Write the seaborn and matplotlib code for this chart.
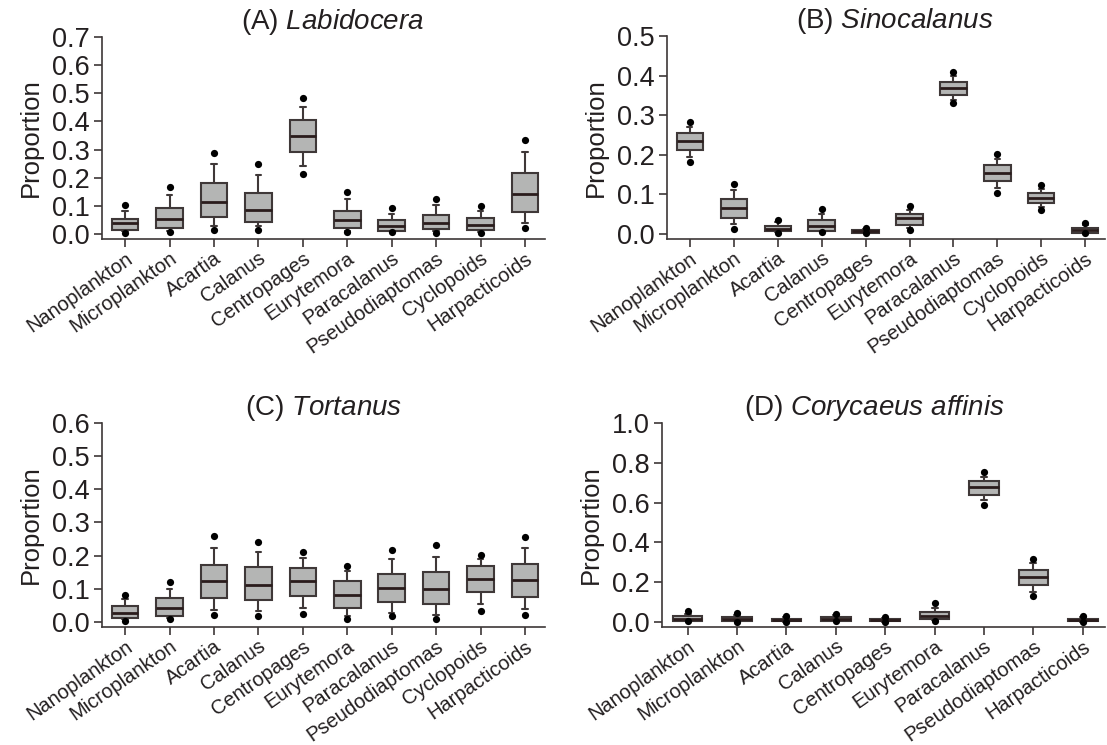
import matplotlib
matplotlib.use("Agg")
import matplotlib.pyplot as plt
import numpy as np
import pandas as pd
import seaborn as sns

# ---------------- data ----------------
cats10 = ["Nanoplankton", "Microplankton", "Acartia", "Calanus", "Centropages",
          "Eurytemora", "Paracalanus", "Pseudodiaptomas", "Cyclopoids", "Harpacticoids"]
cats9 = ["Nanoplankton", "Microplankton", "Acartia", "Calanus", "Centropages",
         "Eurytemora", "Paracalanus", "Pseudodiaptomas", "Harpacticoids"]

# (A) Labidocera
a_dot_lo = [0.004, 0.007, 0.015, 0.013, 0.214, 0.006, 0.006, 0.004, 0.003, 0.020]
a_whi_lo = [0.010, 0.012, 0.027, 0.027, 0.242, 0.010, 0.009, 0.010, 0.008, 0.040]
a_q1     = [0.015, 0.022, 0.059, 0.041, 0.290, 0.021, 0.012, 0.018, 0.014, 0.077]
a_med    = [0.037, 0.054, 0.113, 0.086, 0.348, 0.048, 0.027, 0.039, 0.032, 0.141]
a_q3     = [0.054, 0.093, 0.181, 0.145, 0.405, 0.083, 0.048, 0.068, 0.058, 0.215]
a_whi_hi = [0.080, 0.137, 0.248, 0.208, 0.452, 0.124, 0.072, 0.102, 0.082, 0.290]
a_dot_hi = [0.102, 0.166, 0.289, 0.248, 0.482, 0.150, 0.092, 0.124, 0.099, 0.335]

# (B) Sinocalanus
b_dot_lo = [0.181, 0.013, 0.002, 0.004, 0.002, 0.010, 0.330, 0.102, 0.060, 0.001]
b_whi_lo = [0.193, 0.025, 0.004, 0.006, 0.003, 0.016, 0.339, 0.115, 0.068, 0.002]
b_q1     = [0.212, 0.040, 0.006, 0.008, 0.003, 0.023, 0.352, 0.133, 0.077, 0.003]
b_med    = [0.235, 0.065, 0.012, 0.020, 0.007, 0.039, 0.369, 0.154, 0.090, 0.010]
b_q3     = [0.254, 0.087, 0.020, 0.036, 0.010, 0.049, 0.385, 0.174, 0.103, 0.016]
b_whi_hi = [0.271, 0.112, 0.030, 0.051, 0.012, 0.061, 0.398, 0.188, 0.113, 0.022]
b_dot_hi = [0.282, 0.127, 0.036, 0.063, 0.016, 0.070, 0.409, 0.201, 0.124, 0.028]

# (C) Tortanus
c_dot_lo = [0.002, 0.008, 0.020, 0.017, 0.025, 0.010, 0.017, 0.010, 0.033, 0.020]
c_whi_lo = [0.008, 0.012, 0.036, 0.033, 0.041, 0.018, 0.027, 0.020, 0.053, 0.038]
c_q1     = [0.013, 0.018, 0.071, 0.066, 0.078, 0.043, 0.059, 0.053, 0.089, 0.074]
c_med    = [0.027, 0.043, 0.122, 0.112, 0.122, 0.081, 0.102, 0.100, 0.129, 0.126]
c_q3     = [0.049, 0.071, 0.170, 0.165, 0.161, 0.122, 0.145, 0.151, 0.167, 0.175]
c_whi_hi = [0.068, 0.100, 0.222, 0.211, 0.193, 0.153, 0.190, 0.196, 0.190, 0.224]
c_dot_hi = [0.081, 0.119, 0.259, 0.241, 0.212, 0.168, 0.217, 0.231, 0.203, 0.256]

# (D) Corycaeus affinis
d_dot_lo = [0.002, 0.001, 0.000, 0.002, 0.000, 0.005, 0.590, 0.130, 0.000]
d_whi_lo = [0.004, 0.003, 0.001, 0.003, 0.001, 0.008, 0.612, 0.150, 0.001]
d_q1     = [0.006, 0.005, 0.002, 0.005, 0.002, 0.013, 0.640, 0.186, 0.002]
d_med    = [0.016, 0.014, 0.008, 0.014, 0.008, 0.030, 0.679, 0.226, 0.008]
d_q3     = [0.028, 0.024, 0.015, 0.024, 0.014, 0.047, 0.707, 0.261, 0.015]
d_whi_hi = [0.040, 0.035, 0.024, 0.032, 0.018, 0.072, 0.729, 0.298, 0.024]
d_dot_hi = [0.052, 0.045, 0.030, 0.040, 0.022, 0.097, 0.754, 0.314, 0.030]

panels = [
    ("(A) ", "Labidocera", cats10, a_dot_lo, a_whi_lo, a_q1, a_med, a_q3, a_whi_hi, a_dot_hi,
     [0, 0.1, 0.2, 0.3, 0.4, 0.5, 0.6, 0.7]),
    ("(B) ", "Sinocalanus", cats10, b_dot_lo, b_whi_lo, b_q1, b_med, b_q3, b_whi_hi, b_dot_hi,
     [0, 0.1, 0.2, 0.3, 0.4, 0.5]),
    ("(C) ", "Tortanus", cats10, c_dot_lo, c_whi_lo, c_q1, c_med, c_q3, c_whi_hi, c_dot_hi,
     [0, 0.1, 0.2, 0.3, 0.4, 0.5, 0.6]),
    ("(D) ", "Corycaeus\\ affinis", cats9, d_dot_lo, d_whi_lo, d_q1, d_med, d_q3, d_whi_hi, d_dot_hi,
     [0, 0.2, 0.4, 0.6, 0.8, 1.0]),
]

# ---------------- style ----------------
sns.set_theme(style="ticks")
plt.rcParams["font.family"] = ["Liberation Sans", "DejaVu Sans"]
plt.rcParams["mathtext.fontset"] = "custom"
plt.rcParams["mathtext.rm"] = "Liberation Sans"
plt.rcParams["mathtext.it"] = "Liberation Sans:italic"

TEXT = "#231f20"
AXC = "#3d3737"
FILL = "#b4b5b4"
EDGE = "#3f3838"
MED = "#2a1c1c"

W, H = 1107, 745
fig = plt.figure(figsize=(W / 100, H / 100), dpi=100)

# axes rectangles in pixels: (left, right, top, bottom)
rects = [(102, 545, 37, 239), (667, 1105, 36, 239), (102, 545, 423, 627), (662, 1105, 423, 627)]
title_x = [0.52, 0.52, 0.5, 0.48]

for (lbl, sp, cats, dlo, wlo, q1, med, q3, whi, dhi, yt), (l, r, t, b), tx in zip(panels, rects, title_x):
    ax = fig.add_axes([l / W, 1 - b / H, (r - l) / W, (b - t) / H])
    # five read statistics per category -> box with whiskers at min/max
    rows = []
    for c, vals in zip(cats, zip(wlo, q1, med, q3, whi)):
        for v in vals:
            rows.append((c, v))
    df = pd.DataFrame(rows, columns=["cat", "val"])
    sns.boxplot(data=df, x="cat", y="val", order=cats, whis=(0, 100), width=0.6,
                color=FILL, linecolor=EDGE, linewidth=1.5, fliersize=0, saturation=1,
                medianprops=dict(color=MED, linewidth=2.0), capwidths=0.12, ax=ax)
    dots = pd.DataFrame({"cat": list(cats) * 2, "val": list(dlo) + list(dhi)})
    sns.stripplot(data=dots, x="cat", y="val", order=cats, jitter=False, color="black",
                  size=5.2, ax=ax, zorder=5)
    n = len(cats)
    ax.set_ylim(-0.026 * yt[-1], yt[-1])
    ax.set_xlim(-0.52, n - 0.55)
    ax.set_yticks(yt)
    ax.set_yticklabels(["{:.1f}".format(v) for v in yt], fontsize=19.5, color=TEXT)
    ax.set_xticks(range(n))
    ax.set_xticklabels(cats, rotation=35, ha="right", rotation_mode="anchor",
                       fontsize=14.5, color=TEXT)
    ax.set_xlabel("")
    ax.set_ylabel("Proportion", fontsize=18.5, color=TEXT, labelpad=6)
    for s in ["top", "right"]:
        ax.spines[s].set_visible(False)
    for s in ["left", "bottom"]:
        ax.spines[s].set_color(AXC)
        ax.spines[s].set_linewidth(1.2)
    ax.tick_params(axis="both", colors=AXC, length=6, width=1.2, labelcolor=TEXT)
    ax.tick_params(axis="x", pad=1)
    ax.tick_params(axis="y", pad=3)
    ax.set_title(lbl + "$\\it{" + sp + "}$", fontsize=20, color=TEXT, x=tx, pad=6)

fig.savefig("out.png", dpi=100)
